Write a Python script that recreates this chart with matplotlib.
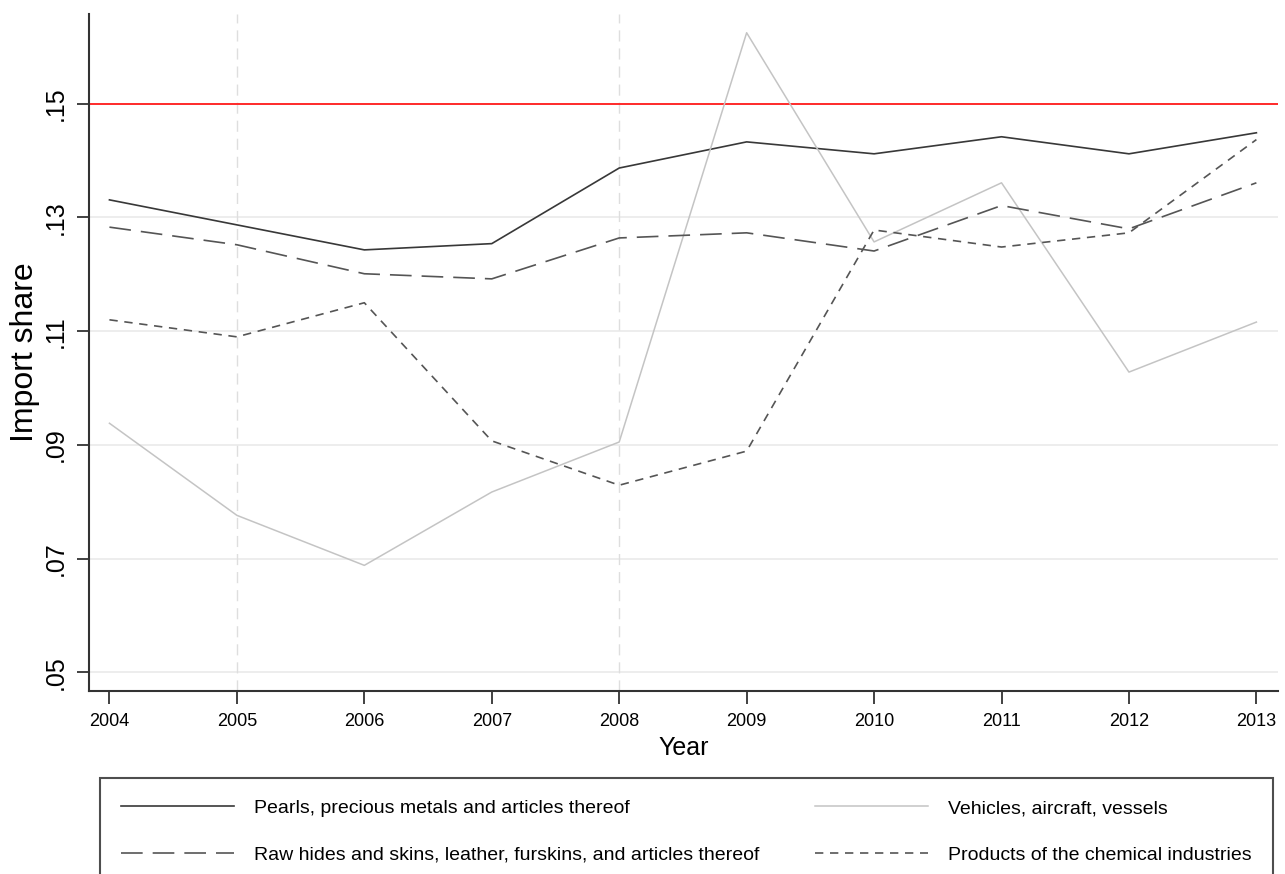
import numpy as np
import matplotlib.pyplot as plt

plt.rcParams['font.family'] = ['Liberation Sans', 'DejaVu Sans']

years = [2004, 2005, 2006, 2007, 2008, 2009, 2010, 2011, 2012, 2013]

pearls = [0.1331, 0.1287, 0.1243, 0.1254, 0.1387, 0.1433, 0.1412, 0.1442, 0.1412, 0.1449]
hides = [0.1283, 0.1252, 0.1201, 0.1192, 0.1264, 0.1273, 0.1241, 0.1321, 0.1280, 0.1361]
vehicles = [0.0938, 0.0776, 0.0688, 0.0817, 0.0905, 0.1625, 0.1257, 0.1361, 0.1028, 0.1116]
chemical = [0.1120, 0.1090, 0.1150, 0.0907, 0.0829, 0.0889, 0.1278, 0.1248, 0.1273, 0.1437]

yticks = [0.05, 0.07, 0.09, 0.11, 0.13, 0.15]
ytick_labels = ['.05', '.07', '.09', '.11', '.13', '.15']
marked_years = [2005, 2008]
threshold = 0.15

fig = plt.figure(figsize=(12.85, 8.74), dpi=100)
ax = fig.add_axes([0.0693, 0.2094, 0.9253, 0.7746])

ax.set_ylim(0.0467, 0.1658)
ax.set_xlim(2003.84, 2013.17)

for yv in yticks:
    ax.axhline(yv, color='#ececec', lw=1.3, zorder=0)
for xv in marked_years:
    ax.axvline(xv, color='#dedede', lw=1.0, dashes=(8, 5), zorder=0)
ax.axhline(threshold, color='#ff2a2a', lw=1.4, zorder=1)

ax.plot(years, pearls, color='#383838', lw=1.2,
        label='Pearls, precious metals and articles thereof')
ax.plot(years, vehicles, color='#c4c4c4', lw=1.1,
        label='Vehicles, aircraft, vessels')
ax.plot(years, hides, color='#555555', lw=1.2, dashes=(13, 6),
        label='Raw hides and skins, leather, furskins, and articles thereof')
ax.plot(years, chemical, color='#555555', lw=1.2, dashes=(5, 4),
        label='Products of the chemical industries')

ax.set_yticks(yticks)
ax.set_yticklabels(ytick_labels, rotation=90, va='center', fontsize=18)
ax.set_xticks(years)
ax.set_xticklabels([str(y) for y in years], fontsize=13)
ax.tick_params(axis='both', direction='out', length=9, width=1.3, color='#333333')
ax.tick_params(axis='y', pad=6)
ax.tick_params(axis='x', pad=7)

for s in ['top', 'right']:
    ax.spines[s].set_visible(False)
for s in ['left', 'bottom']:
    ax.spines[s].set_color('#333333')
    ax.spines[s].set_linewidth(1.5)

ax.set_xlabel('Year', fontsize=18)
ax.xaxis.set_label_coords(0.5, -0.066)
ax.set_ylabel('Import share', fontsize=23)
ax.yaxis.set_label_coords(-0.041, 0.5)

# legend box runs off the bottom edge of the figure
handles, labels = ax.get_legend_handles_labels()
order = [0, 2, 1, 3]
leg = fig.legend([handles[i] for i in order], [labels[i] for i in order],
                 ncol=2, loc='upper left',
                 bbox_to_anchor=(100 / 1285, 1 - 778 / 874),
                 borderaxespad=0, fontsize=14, handlelength=5.8,
                 handletextpad=1.0, labelspacing=1.5, borderpad=1.1,
                 columnspacing=2.9, fancybox=False, frameon=True)
leg.get_frame().set_edgecolor('#222222')
leg.get_frame().set_linewidth(1.5)

fig.savefig('out.png', dpi=100)
